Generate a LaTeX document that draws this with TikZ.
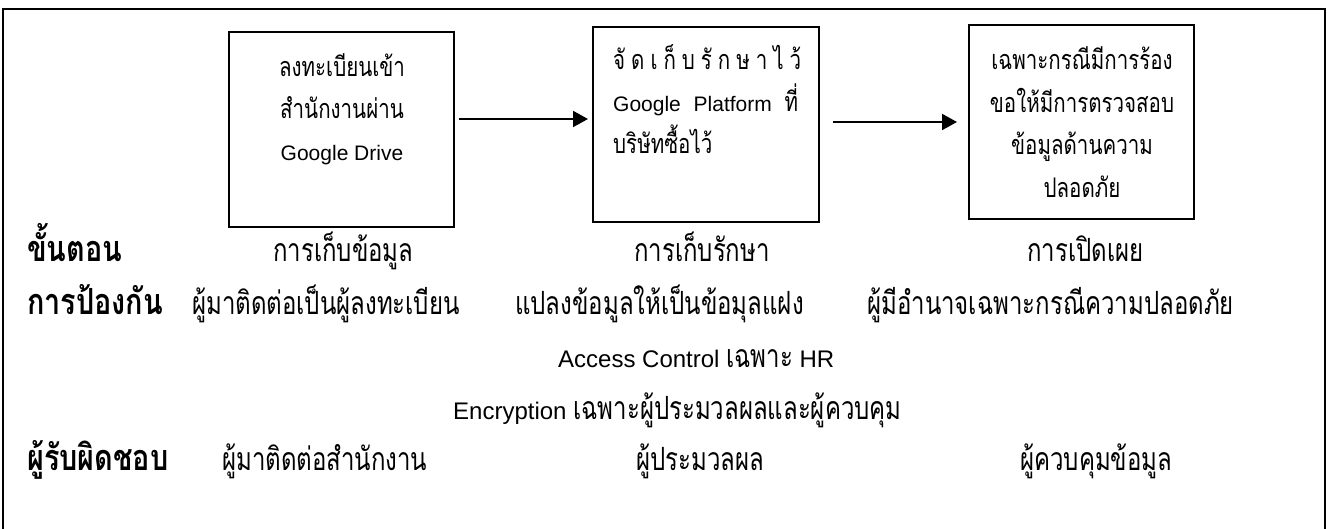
\documentclass[tikz,border=0pt]{standalone}
\usepackage{fontspec}
\usetikzlibrary{arrows.meta}
\setmainfont{Liberation Sans}
\newfontfamily\thfont[Script=Thai,FakeStretch=0.75]{Loma}
\newfontfamily\thsmfont[Script=Thai,FakeStretch=0.76]{Loma}
\newfontfamily\thbfont[Script=Thai,FakeStretch=0.8]{Loma}
\newfontfamily\latfont{Liberation Sans}
\newcommand{\latf}{\latfont\fontsize{24}{26}\selectfont}
\newcommand{\latsf}{\latfont\fontsize{21}{24}\selectfont}
\newcommand{\thf}{\thfont\fontsize{32}{34}\selectfont}
\newcommand{\thsf}{\thsmfont\fontsize{27}{30}\selectfont}
\newcommand{\thbf}{\thbfont\bfseries\fontsize{36}{38}\selectfont}
\tikzset{
  stagebox/.style={draw, line width=2pt, minimum width=225pt, minimum height=195pt, inner sep=0pt},
  bline/.style={inner sep=0pt, anchor=base, font=\thsf},
  bwest/.style={inner sep=0pt, anchor=base west, font=\thsf},
  twest/.style={inner sep=0pt, anchor=base west, font=\thf},
  rowlab/.style={inner sep=0pt, anchor=base west, font=\thbf},
  flowarrow/.style={line width=2pt, -{Triangle[length=15pt,width=16pt]}}
}
\begin{document}
\begin{tikzpicture}[x=1pt,y=-1pt]
\useasboundingbox (0,0) rectangle (1331,529);
\draw[line width=1.5pt] (3,9) rectangle (1325,560);
% boxes
\node[stagebox] (box1) at (341.5,129.5) {};
\node[stagebox, minimum width=226pt] (box2) at (706,124.5) {};
\node[stagebox, minimum height=194pt] (box3) at (1081.5,122) {};
% box 1 text
\node[bline] (b1a) at (342,76.5) {ลงทะเบียนเข้า};
\node[bline] (b1b) at (342,118.5) {สำนักงานผ่าน};
\node[bline, font=\latsf] (b1c) at (342,160.5) {Google Drive};
% box 2 text
\node[bwest] (b2a) at (613,70) {\makebox[188pt][s]{จั\hfill ด\hfill เ\hfill ก็\hfill บ\hfill รั\hfill ก\hfill ษ\hfill า\hfill ไ\hfill ว้}};
\node[bwest] (b2b) at (613,112) {\makebox[185pt][s]{\latsf Google\hfill Platform\hfill\thsf ที่}};
\node[bwest] (b2c) at (613,154) {บริษัทซื้อไว้};
% box 3 text
\node[bline] (b3a) at (1082,70) {เฉพาะกรณีมีการร้อง};
\node[bline] (b3b) at (1082,113) {ขอให้มีการตรวจสอบ};
\node[bline] (b3c) at (1082,155) {ข้อมูลด้านความ};
\node[bline] (b3d) at (1082,198) {ปลอดภัย};
% arrows
\draw[flowarrow] ([xshift=4pt,yshift=10.5pt]box1.east) -- ([xshift=-4pt,yshift=5.5pt]box2.west);
\draw[flowarrow] ([xshift=13pt,yshift=2.5pt]box2.east) -- ([xshift=-11pt]box3.west);
% row 1
\node[rowlab] (r1) at (27,262) {ขั้นตอน};
\node[twest] (s1) at (273,262) {การเก็บข้อมูล};
\node[twest] (s2) at (634,262) {การเก็บรักษา};
\node[twest] (s3) at (1027,262) {การเปิดเผย};
% row 2
\node[rowlab] (r2) at (27,315) {การป้องกัน};
\node[twest] (p1) at (192,315) {ผู้มาติดต่อเป็นผู้ลงทะเบียน};
\node[twest] (p2) at (515,315) {แปลงข้อมูลให้เป็นข้อมุลแฝง};
\node[twest] (p3) at (867,315) {ผู้มีอำนาจเฉพาะกรณีความปลอดภัย};
\node[twest] (p4) at (558,367) {{\latf Access Control }เฉพาะ{\latf{} HR}};
\node[twest] (p5) at (453,419) {{\latf Encryption }เฉพาะผู้ประมวลผลและผู้ควบคุม};
% row 3
\node[rowlab] (r3) at (27,470) {ผู้รับผิดชอบ};
\node[twest] (o1) at (222,470) {ผู้มาติดต่อสำนักงาน};
\node[twest] (o2) at (636,470) {ผู้ประมวลผล};
\node[twest] (o3) at (1020,470) {ผู้ควบคุมข้อมูล};
\end{tikzpicture}
\end{document}
